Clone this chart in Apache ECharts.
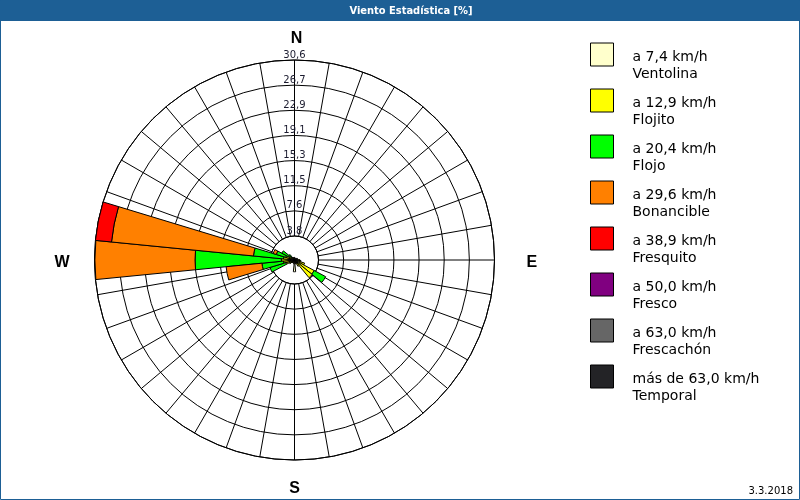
<!DOCTYPE html>
<html><head><meta charset="utf-8">
<script src="https://cdn.jsdelivr.net/npm/echarts@6/dist/echarts.min.js"></script>
<style>html,body{margin:0;padding:0;background:#fff}#c{width:800px;height:500px}</style>
</head><body><div id="c"></div>
<script>
// 32 wind directions, clockwise from North
const directions = ['N','NbE','NNE','NEbN','NE','NEbE','ENE','EbN','E','EbS','ESE','SEbE','SE','SEbS','SSE','SbE',
                    'S','SbW','SSW','SWbS','SW','SWbW','WSW','WbS','W','WbN','WNW','NWbW','NW','NWbN','NNW','NbW'];
const compass = ['N','E','S','W'];
const radiusTickLabels = ['3,8','7,6','11,5','15,3','19,1','22,9','26,7','30,6'];
const radiusStep = 3.82;
const radiusMax = 30.56;

const classSpeeds = ['a 7,4 km/h','a 12,9 km/h','a 20,4 km/h','a 29,6 km/h','a 38,9 km/h','a 50,0 km/h','a 63,0 km/h','más de 63,0 km/h'];
const classLabels = ['Ventolina','Flojito','Flojo','Bonancible','Fresquito','Fresco','Frescachón','Temporal'];
const classColors = ['#FFFFCC','#FFFF00','#00FF00','#FF8000','#FF0000','#800080','#666666','#232326'];

// frequency [%] per direction (index = directions)
const ventolina  = [0.4,0.3,0.3,0.3,0.3,0.4,0.5,0.5,0.6,0.6,0.8,0.9,0.8,0.6,0.5,0.6,1.8,0.6,0.5,0.4,0.4,0.5,0.6,0.7,0.8,0.7,0.6,0.5,0.4,0.4,0.4,0.4];
const flojito    = [0,0,0,0,0,0,0,0,0.2,0.4,0.8,2.5,2.7,0.5,0,0,0,0,0,0,0.2,0.4,0.8,1.0,1.2,1.0,0.8,0.5,0.2,0,0,0];
const flojo      = [0,0,0,0,0,0,0,0,0,0,0,2.0,0,0,0,0,0,0,0,0,0,0,2.5,3.3,13.2,4.6,1.5,1.2,0.5,0,0,0];
const bonancible = [0,0,0,0,0,0,0,0,0,0,0,0,0,0,0,0,0,0,0,0,0,0,0,5.5,15.3,21.8,0.5,0,0,0,0,0];
const fresquito  = [0,0,0,0,0,0,0,0,0,0,0,0,0,0,0,0,0,0,0,0,0,0,0,0,0,2.46,0,0,0,0,0,0];
const fresco     = [0,0,0,0,0,0,0,0,0,0,0,0,0,0,0,0,0,0,0,0,0,0,0,0,0,0,0,0,0,0,0,0];
const frescachon = [0,0,0,0,0,0,0,0,0,0,0,0,0,0,0,0,0,0,0,0,0,0,0,0,0,0,0,0,0,0,0,0];
const temporal   = [0,0,0,0,0,0,0,0,0,0,0,0,0,0,0,0,0,0,0,0,0,0,0,0,0,0,0,0,0,0,0,0];
const classValues = [ventolina, flojito, flojo, bonancible, fresquito, fresco, frescachon, temporal];

const titleText = 'Viento Estadística [%]';
const dateText = '3.3.2018';

const CX = 294.5, CY = 260, R = 200, R0 = 24;
const chart = echarts.init(document.getElementById('c'), null, {renderer: 'canvas'});

const classNames = classSpeeds.map((s, i) => s + '\n' + classLabels[i]);

const series = classNames.map((name, i) => ({
  name: name,
  type: 'bar',
  coordinateSystem: 'polar',
  polarIndex: 1,
  stack: 'wind',
  barCategoryGap: '0%',
  itemStyle: {color: classColors[i], borderColor: '#000', borderWidth: 1},
  emphasis: {disabled: true},
  data: classValues[i].map(v => v > 0 ? v : null)
}));

const compassRich = {fontFamily: 'Liberation Sans', fontWeight: 'bold', fontSize: 16, color: '#000'};

chart.setOption({
  animation: false,
  polar: [
    {center: [CX, CY], radius: [R0, R]},
    {center: [CX, CY], radius: [0, R]}
  ],
  angleAxis: [
    {
      polarIndex: 0, type: 'value', min: 0, max: 360, interval: 10, startAngle: 90, clockwise: true,
      axisLine: {show: true, lineStyle: {color: '#000', width: 1}},
      axisTick: {show: false},
      splitLine: {show: true, lineStyle: {color: '#000', width: 1}},
      axisLabel: {
        show: true, margin: 13,
        formatter: v => (v % 90 === 0 && v < 360) ? '{' + compass[v / 90].toLowerCase() + '|' + compass[v / 90] + '}' : '',
        rich: {
          n: Object.assign({padding: [0, 0, 0, 4]}, compassRich),
          e: Object.assign({padding: [6, 0, 0, 19]}, compassRich),
          s: Object.assign({padding: [8, 0, 0, 0]}, compassRich),
          w: Object.assign({padding: [6, 12, 0, 0]}, compassRich)
        }
      }
    },
    {
      polarIndex: 1, type: 'category', data: directions, startAngle: 90 + 180 / directions.length, clockwise: true,
      show: false
    }
  ],
  radiusAxis: [
    {
      polarIndex: 0, type: 'value', min: radiusStep, max: radiusMax, interval: radiusStep,
      axisLine: {show: false}, axisTick: {show: false},
      splitLine: {show: true, lineStyle: {color: '#000', width: 1}},
      axisLabel: {
        show: true, margin: 0, align: 'center', verticalAlign: 'bottom',
        fontFamily: 'DejaVu Sans', fontSize: 10, color: '#1a1a2e',
        formatter: v => radiusTickLabels[Math.round(v / radiusStep) - 1] || ''
      },
      z: 1
    },
    {polarIndex: 1, type: 'value', min: 0, max: radiusMax, show: false, splitLine: {show: false}}
  ],
  legend: {
    orient: 'vertical', left: 590, top: 26.5, padding: 0,
    itemWidth: 23, itemHeight: 23, itemGap: -10,
    selectedMode: false, icon: 'rect',
    itemStyle: {borderColor: '#000', borderWidth: 1},
    formatter: name => {
      const i = classNames.indexOf(name);
      return '{sp| }\n{t|' + classSpeeds[i] + '}\n{t|' + classLabels[i] + '}';
    },
    textStyle: {
      fontFamily: 'DejaVu Sans', fontSize: 14, color: '#000', padding: [0, 0, 0, 14],
      rich: {
        sp: {fontSize: 1, height: 22, lineHeight: 22},
        t: {fontFamily: 'DejaVu Sans', fontSize: 14, lineHeight: 17, height: 17, color: '#000'}
      }
    },
    data: classNames
  },
  graphic: [
    {type: 'rect', shape: {x: 0, y: 0, width: 800, height: 21}, style: {fill: '#1D5F95'}, z: 10},
    {type: 'rect', shape: {x: 0.5, y: 0.5, width: 799, height: 499}, style: {fill: null, stroke: '#1D5F95', lineWidth: 1}, z: 10},
    {type: 'text', x: 411, y: 11, z: 11,
     style: {text: titleText, fill: '#fff', font: 'bold 11px "DejaVu Sans Condensed", "DejaVu Sans"', textAlign: 'center', textVerticalAlign: 'middle'}},
    {type: 'text', x: 793, y: 491, z: 11,
     style: {text: dateText, fill: '#000', font: '10px "DejaVu Sans"', textAlign: 'right', textVerticalAlign: 'middle'}}
  ],
  series: series
});
</script>
</body></html>
